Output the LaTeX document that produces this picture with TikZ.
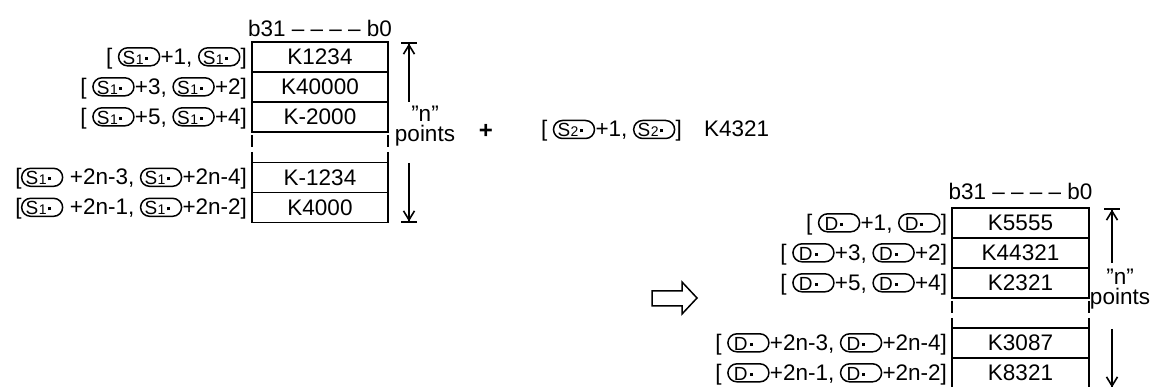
\documentclass[tikz,border=0pt]{standalone}
\usepackage{fontspec}
\setmainfont{Liberation Sans}
\usepackage{pict2e}
\usetikzlibrary{arrows.meta,positioning}

\newcommand\myoval[2]{{\setlength{\unitlength}{1pt}\linethickness{1.5pt}%
\begin{picture}(42,0)%
\put(20.5,7.5){\oval(41,18)}%
\put(#1,0){\fontsize{19}{19}\selectfont #2}%
\end{picture}}}
\newcommand\opdot{\rule[4.5pt]{3pt}{3pt}}
\newcommand\opS{\myoval{4}{S\kern0.5pt{\fontsize{14}{14}\selectfont 1}\kern1.5pt\opdot}}
\newcommand\opSb{\myoval{4}{S\kern0.5pt{\fontsize{14}{14}\selectfont 2}\kern1.5pt\opdot}}
\newcommand\opD{\myoval{6}{D\kern2pt\opdot}}

\begin{document}
\begin{tikzpicture}[x=1pt,y=-1pt,
  every node/.style={font=\fontsize{22.5}{17}\selectfont, inner sep=0pt, outer sep=0pt},
  boxcell/.style={draw, line width=1.8pt, minimum width=136pt, minimum height=30pt},
  boxcellR/.style={boxcell, minimum width=137pt},
  gapdash/.style={line width=1.8pt, dash pattern=on 12pt off 5pt, dash phase=14pt},
  spanarrow/.style={line width=1.6pt, -{Straight Barb[length=9pt,width=11pt,sep=0pt]Bar[width=16pt]}},
  ptslabel/.style={align=center, font=\fontsize{22.5}{20}\selectfont}]
\useasboundingbox (0,0) rectangle (1157,387);

% ---- left table
\node[boxcell] (L1) at (320,57) {K1234};
\node[boxcell] (L2) at (320,87) {K40000};
\node[boxcell] (L3) at (320,117) {K-2000};
\node[boxcell] (L4) at (320,177.5) {K-1234};
\node[boxcell] (L5) at (320,207.5) {K4000};
\draw[gapdash] (L3.south west) -- (L4.north west);
\draw[gapdash] (L3.south east) -- (L4.north east);
\node[anchor=south] (H1) at ([yshift=5pt]L1.north) {b31 \textendash\ \textendash\ \textendash\ \textendash\ b0};

\node[left=5pt of L1, yshift=-1.5pt] (l1) {[ \opS+1, \opS]};
\node[left=5pt of L2, yshift=-1.5pt] (l2) {[ \opS+3, \opS+2]};
\node[left=5pt of L3, yshift=-1.5pt] (l3) {[ \opS+5, \opS+4]};
\node[left=5pt of L4, yshift=-1.5pt] (l4) {[\opS\ +2n-3, \opS+2n-4]};
\node[left=5pt of L5, yshift=-1.5pt] (l5) {[\opS\ +2n-1, \opS+2n-2]};

\coordinate (a1s) at (409,102);
\coordinate (a1e) at (409,42);
\coordinate (a2s) at (409,163);
\coordinate (a2e) at (409,223);
\draw[spanarrow] (a1s) -- (a1e);
\draw[spanarrow] (a2s) -- (a2e);
\node[ptslabel] (n1) at (425,126) {"n"\\points};

% ---- middle
\node[font=\bfseries\fontsize{24}{24}\selectfont] (plus) at (486,131) {+};
\node[anchor=base west] (s2) at (541,137) {[ \opSb+1, \opSb]};
\node[anchor=base west] (k2) at (704,137) {K4321};

% ---- hollow arrow
\draw[line width=1.5pt, line join=miter] (652,291) -- (682,291) -- (682,282) -- (697,298) -- (682,314) -- (682,306) -- (652,306) -- cycle;

% ---- right table
\node[boxcellR] (R1) at (1020.5,223) {K5555};
\node[boxcellR] (R2) at (1020.5,253) {K44321};
\node[boxcellR] (R3) at (1020.5,283) {K2321};
\node[boxcellR] (R4) at (1020.5,343) {K3087};
\node[boxcellR] (R5) at (1020.5,373) {K8321};
\draw[gapdash] (R3.south west) -- (R4.north west);
\draw[gapdash] (R3.south east) -- (R4.north east);
\node[anchor=south] (H2) at ([yshift=8pt]R1.north) {b31 \textendash\ \textendash\ \textendash\ \textendash\ b0};

\node[left=5pt of R1, yshift=-1.5pt] (r1) {[ \opD+1, \opD]};
\node[left=5pt of R2, yshift=-1.5pt] (r2) {[ \opD+3, \opD+2]};
\node[left=5pt of R3, yshift=-1.5pt] (r3) {[ \opD+5, \opD+4]};
\node[left=5pt of R4, yshift=-1.5pt] (r4) {[ \opD+2n-3, \opD+2n-4]};
\node[left=5pt of R5, yshift=-1.5pt] (r5) {[ \opD+2n-1, \opD+2n-2]};

\coordinate (b1s) at (1112,263);
\coordinate (b1e) at (1112,208);
\coordinate (b2s) at (1112,329);
\coordinate (b2e) at (1112,389);
\draw[spanarrow] (b1s) -- (b1e);
\draw[spanarrow] (b2s) -- (b2e);
\node[ptslabel] (n2) at (1120,289) {"n"\\points};
\end{tikzpicture}
\end{document}
